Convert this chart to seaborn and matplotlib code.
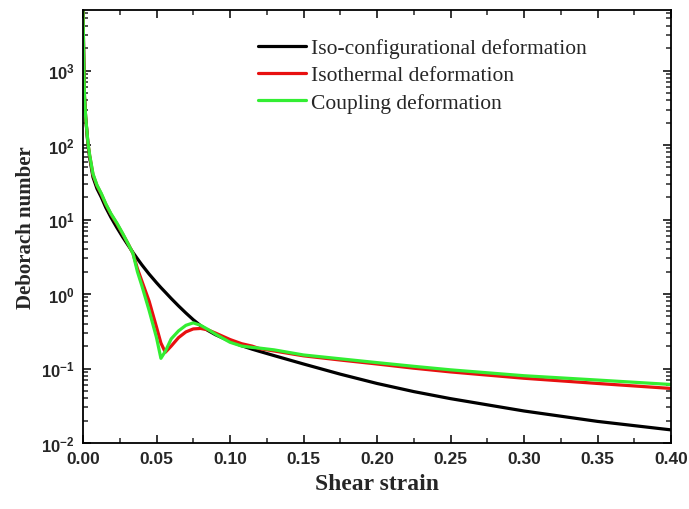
import numpy as np
import pandas as pd
import matplotlib
matplotlib.use("Agg")
import matplotlib.pyplot as plt
import matplotlib.ticker as mticker
import seaborn as sns

# ---- data ----
strain = [0.0, 0.0005, 0.001, 0.0018, 0.0034, 0.0045, 0.0068, 0.0095, 0.0124, 0.0155,
          0.019, 0.023, 0.027, 0.031, 0.034, 0.037, 0.04, 0.045, 0.05, 0.053,
          0.056, 0.06, 0.065, 0.07, 0.075, 0.08, 0.085, 0.09, 0.1, 0.108,
          0.115, 0.12, 0.13, 0.15, 0.175, 0.2, 0.225, 0.25, 0.3, 0.35, 0.4]

iso_config = [6500, 1500, 450, 235, 100, 68, 37, 26, 20, 14.5,
              10.7, 7.82, 5.82, 4.42, 3.61, 2.98, 2.47, 1.85, 1.42, 1.22,
              1.057, 0.871, 0.692, 0.556, 0.452, 0.376, 0.324, 0.285, 0.232, 0.202,
              0.182, 0.17, 0.149, 0.115, 0.084, 0.063, 0.049, 0.0394, 0.0269, 0.0195, 0.015]

isothermal = [6500, 1500, 450, 235, 105, 73, 40, 28.5, 22, 16,
              11.8, 8.8, 6.4, 4.6, 3.5, 2.2, 1.5, 0.8, 0.36, 0.22,
              0.165, 0.2, 0.26, 0.31, 0.34, 0.345, 0.33, 0.3, 0.245, 0.215,
              0.2, 0.185, 0.172, 0.148, 0.13, 0.115, 0.101, 0.09, 0.074, 0.063, 0.054]

coupling = [6500, 1500, 450, 240, 106, 74, 41, 29, 22.5, 16.3,
            12, 9, 6.5, 4.6, 3.5, 2.0, 1.3, 0.6, 0.26, 0.137,
            0.17, 0.25, 0.32, 0.38, 0.41, 0.38, 0.335, 0.29, 0.225, 0.2,
            0.192, 0.188, 0.178, 0.152, 0.135, 0.12, 0.107, 0.096, 0.08, 0.07, 0.061]

series_names = ["Iso-configurational deformation", "Isothermal deformation",
                "Coupling deformation"]
series_colors = ["#000000", "#e81010", "#33ee33"]

df = pd.concat([
    pd.DataFrame({"strain": strain, "De": vals, "series": name})
    for name, vals in zip(series_names, [iso_config, isothermal, coupling])
], ignore_index=True)

sns.set_style("ticks")
plt.rcParams["mathtext.fontset"] = "custom"
plt.rcParams["mathtext.rm"] = "Liberation Sans:bold"
plt.rcParams["mathtext.bf"] = "Liberation Sans:bold"
plt.rcParams["mathtext.it"] = "Liberation Sans:bold"

fig = plt.figure(figsize=(6.89, 5.10), dpi=100)
ax = fig.add_axes([83 / 689, 1 - 444 / 510, (671 - 83) / 689, (444 - 11) / 510])

sns.lineplot(data=df, x="strain", y="De", hue="series", hue_order=series_names,
             palette=series_colors, sort=False, linewidth=2.3, ax=ax, legend=False)

ax.set_yscale("log")
ax.set_xlim(0, 0.4)
ax.set_ylim(0.01, 6500)

ax.xaxis.set_major_locator(mticker.MultipleLocator(0.05))
ax.xaxis.set_minor_locator(mticker.MultipleLocator(0.025))
ax.xaxis.set_major_formatter(mticker.FormatStrFormatter("%.2f"))
ax.yaxis.set_major_locator(mticker.LogLocator(base=10, numticks=10))
ax.yaxis.set_minor_locator(mticker.LogLocator(base=10, subs=np.arange(2, 10), numticks=20))
ax.yaxis.set_minor_formatter(mticker.NullFormatter())
ax.yaxis.set_major_formatter(mticker.FuncFormatter(
    lambda v, p: r"$10^{%d}$" % int(round(np.log10(v)))))

ax.tick_params(axis="both", which="major", direction="in", length=6, width=1.3,
               top=True, right=True, labelsize=12, pad=6)
ax.tick_params(axis="x", which="major", labelsize=12.5)
ax.tick_params(axis="both", which="minor", direction="in", length=3.5, width=1.1,
               top=True, right=True)
for lbl in ax.get_xticklabels():
    lbl.set_fontweight("bold")
    lbl.set_family("Liberation Sans")

for s in ax.spines.values():
    s.set_linewidth(1.3)
    s.set_color("black")

ax.set_xlabel("Shear strain", fontsize=17, fontweight="bold",
              family="Liberation Serif", labelpad=5)
ax.set_ylabel("Deborach number", fontsize=15, fontweight="bold",
              family="Liberation Serif", labelpad=4)

handles = [plt.Line2D([], [], color=c, lw=2.3) for c in series_colors]
ax.legend(handles, series_names, loc="upper left", bbox_to_anchor=(0.298, 0.935),
          frameon=False, prop={"family": "Liberation Serif", "size": 15.5},
          handlelength=2.2, handletextpad=0.25, labelspacing=0.33,
          borderaxespad=0, borderpad=0)

fig.savefig("out.png", dpi=100)
